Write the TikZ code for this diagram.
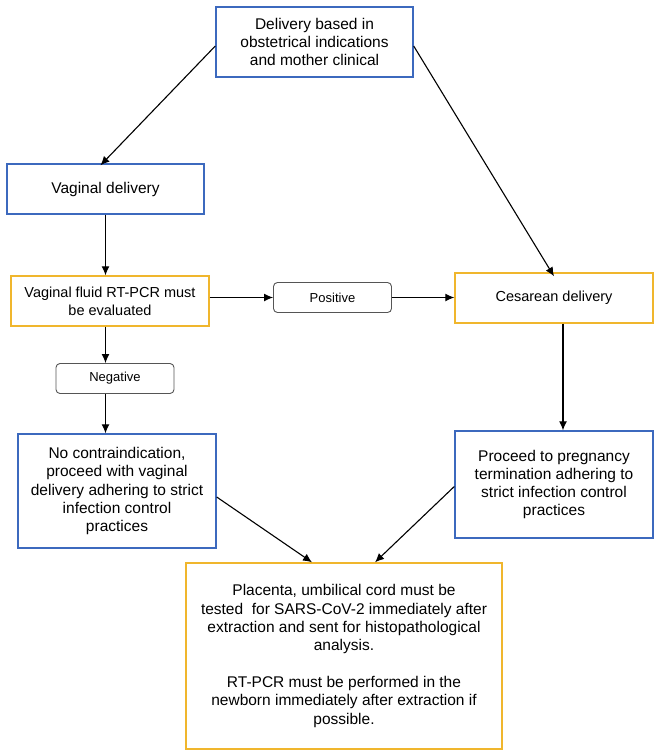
\documentclass[tikz,border=0pt]{standalone}
\usepackage{fontspec}
\setmainfont{Liberation Sans}
\usepackage{tikz}
\usetikzlibrary{
	positioning,
	calc,
	arrows.meta
}
\definecolor{BoxBlue}{RGB}{60,105,190}
\definecolor{BoxOrange}{RGB}{240,182,45}
\definecolor{TagGray}{RGB}{85,85,85}

\begin{document}
\begin{tikzpicture}[
	x=1pt,y=-1pt,
	bluebox/.style={
		draw=BoxBlue,
		line width=1.4pt,
		inner sep=0pt,
		align=center,
		font=\fontsize{15.5}{18.3}\selectfont
	},
	orangebox/.style={
		draw=BoxOrange,
		line width=1.4pt,
		inner sep=0pt,
		align=center,
		font=\fontsize{14.5}{18}\selectfont
	},
	tagbox/.style={
		draw=TagGray,
		line width=0.9pt,
		rounded corners=4pt,
		inner sep=0pt,
		minimum width=118,
		minimum height=30,
		font=\fontsize{13}{15}\selectfont
	},
	flow/.style={
		black,
		line width=1.1pt,
		-{Latex[length=9pt,width=8pt]}
	}
	]
	
	\useasboundingbox (0,0) rectangle (660,753);
	
	\node[
	bluebox,
	minimum width=197,
	minimum height=70
	]
	(D) at (314.5,42)
	{Delivery based in\\obstetrical indications\\and mother clinical};
	
	\node[
	bluebox,
	minimum width=197,
	minimum height=50
	]
	(V) at (105.5,189)
	{Vaginal delivery};
	
	\node[
	orangebox,
	minimum width=198,
	minimum height=50
	]
	(F) at (110,301)
	{Vaginal fluid RT-PCR must\\be evaluated};
	
	\node[tagbox] (P) at (332.5,297.5) {Positive};
	
	\node[
	orangebox,
	minimum width=198,
	minimum height=50
	]
	(C) at (554,298)
	{Cesarean delivery};
	
	\node[tagbox] (N) at (115,378.5) {Negative};
	
	\node[
	bluebox,
	minimum width=198,
	minimum height=114
	]
	(NC) at (117,491)
	{No contraindication,\\proceed with vaginal\\delivery adhering to strict\\infection control\\practices};
	
	\node[
	bluebox,
	minimum width=198,
	minimum height=107
	]
	(PT) at (554,484.5)
	{Proceed to pregnancy\\termination adhering to\\strict infection control\\practices};
	
	\node[
	orangebox,
	minimum width=316,
	minimum height=186,
	font=\fontsize{15.5}{18.3}\selectfont
	]
	(B) at (344,656)
	{Placenta, umbilical cord must be\\tested~ for SARS-CoV-2 immediately after\\extraction and sent for histopathological\\analysis.\\[18.3pt]RT-PCR must be performed in the\\newborn immediately after extraction if\\possible.};
	
	\draw[flow] ([yshift=-4]D.west) -- ([xshift=-5,yshift=-2]V.north);
	\draw[flow] ([yshift=-4]D.east) -- ([yshift=-4]C.north);
	\draw[flow] (V.south) -- (V.south |- F.north);
	\draw[flow] (F.east |- P.west) -- (P.west);
	\draw[flow] (P.east) -- (P.east -| C.west);
	\draw[flow] (V.south |- F.south) -- (V.south |- N.north);
	\draw[flow] (V.south |- N.south) -- (V.south |- NC.north);
	\draw[flow] ([xshift=9]C.south) -- ([xshift=9]C.south |- PT.north);
	\draw[flow] ([yshift=-6]NC.east) -- ([xshift=-32]B.north);
	\draw[flow] ([yshift=-2]PT.west) -- ([xshift=31]B.north);
	
\end{tikzpicture}
\end{document}
